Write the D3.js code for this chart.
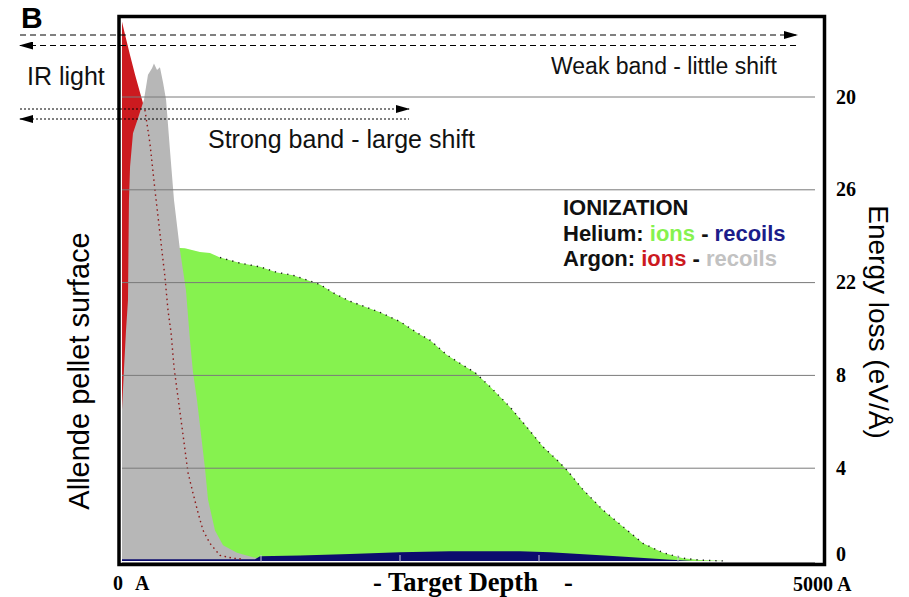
<!DOCTYPE html>
<html>
<head>
<meta charset="utf-8">
<script src="https://cdn.jsdelivr.net/npm/d3@7"></script>
<style>
  html, body { margin: 0; padding: 0; background: #fff; }
  svg { display: block; }
  .sans { font-family: "Liberation Sans", Arial, sans-serif; }
  .serif { font-family: "Liberation Serif", "Times New Roman", serif; font-weight: bold; }
</style>
</head>
<body>
<svg id="chart" width="909" height="597"></svg>
<script>
// Depth in Å, energy loss in axis-step units (one step per gridline)
const argonIonDepth = [0, 22, 58, 94, 129, 165, 201, 237, 273, 309, 331, 353, 374, 396, 432, 453, 475, 511, 547, 583, 633, 705, 799, 870];
const argonIons     = [5.81, 5.67, 5.45, 5.24, 5.05, 4.86, 4.50, 4.00, 3.53, 3.06, 2.70, 2.46, 2.09, 1.84, 1.44, 1.20, 0.95, 0.73, 0.52, 0.33, 0.19, 0.06, 0.03, 0.02];

const argonRecoilDepth = [0, 14, 29, 43, 50, 58, 79, 115, 158, 187, 216, 230, 252, 273, 295, 317, 345, 374, 417, 460, 489, 511, 540, 597, 619, 669, 727, 827, 942, 1065, 1209];
const argonRecoils     = [1.63, 2.06, 2.49, 2.81, 3.89, 4.25, 4.61, 4.77, 4.97, 5.24, 5.31, 5.36, 5.29, 5.32, 5.16, 4.97, 4.43, 3.89, 3.35, 2.92, 2.38, 2.03, 1.73, 1.00, 0.66, 0.33, 0.17, 0.09, 0.04, 0.01, 0];

const heliumIonDepth = [309, 453, 561, 633, 705, 849, 993, 1115, 1230, 1424, 1532, 1640, 1856, 2000, 2122, 2216, 2338, 2453, 2540, 2647, 2791, 2914, 3029, 3129, 3201, 3316, 3460, 3604, 3748, 3892, 4036, 4158, 4338];
const heliumIons     = [3.38, 3.37, 3.33, 3.32, 3.27, 3.21, 3.17, 3.11, 3.08, 2.98, 2.88, 2.80, 2.68, 2.58, 2.46, 2.38, 2.22, 2.11, 2.03, 1.88, 1.66, 1.44, 1.23, 1.09, 0.98, 0.77, 0.55, 0.37, 0.19, 0.09, 0.03, 0.01, 0];

const heliumRecoilDepth = [0, 957, 993, 1281, 1640, 2000, 2360, 2863, 3079, 3561, 3921, 4108];
const heliumRecoils     = [0.02, 0.02, 0.05, 0.06, 0.075, 0.095, 0.105, 0.105, 0.095, 0.05, 0.015, 0];

const yTickLevels = [0, 1, 2, 3, 4, 5];
const yTickLabels = ["0", "4", "8", "22", "26", "20"];
const xTickDepths = [1000, 2000, 3000, 4000];

const colors = {
  heIons: "#86f24f",
  heRecoils: "#0c0c6e",
  arIons: "#cc1a1f",
  arRecoils: "#b7b7b7"
};

const svg = d3.select("#chart");

const x = d3.scaleLinear().domain([0, 5000]).range([122, 817]);
const y = d3.scaleLinear().domain([0, 5]).range([561, 97]);

const pairs = (xs, ys) => xs.map((d, i) => [d, ys[i]]);
const area = d3.area().x(d => x(d[0])).y0(y(0)).y1(d => y(d[1])).curve(d3.curveLinear);
const line = d3.line().x(d => x(d[0])).y(d => y(d[1]));

svg.append("defs").html(`
  <marker id="head" viewBox="0 0 14 8" refX="13" refY="4" markerWidth="14" markerHeight="8" markerUnits="userSpaceOnUse" orient="auto-start-reverse">
    <path d="M0,0 L14,4 L0,8 Z" fill="#000"/>
  </marker>`);

// Filled profiles
svg.append("path").datum(pairs(argonIonDepth, argonIons)).attr("d", area).attr("fill", colors.arIons);
svg.append("path").datum(pairs(heliumIonDepth, heliumIons)).attr("d", area).attr("fill", colors.heIons);
svg.append("path").datum(pairs(argonRecoilDepth, argonRecoils)).attr("d", area).attr("fill", colors.arRecoils);
svg.append("path").datum(pairs(heliumRecoilDepth, heliumRecoils)).attr("d", area).attr("fill", colors.heRecoils);

// Dotted outlines of the ion profiles
svg.append("path")
  .datum(pairs(argonIonDepth, argonIons).filter(d => d[0] >= 165))
  .attr("d", line).attr("fill", "none")
  .attr("stroke", "#8e1818").attr("stroke-width", 1.4).attr("stroke-dasharray", "1.5,3.5");
svg.append("path")
  .datum(pairs(heliumIonDepth, heliumIons).filter(d => d[0] >= 650))
  .attr("d", line).attr("fill", "none")
  .attr("stroke", "#1a1a1a").attr("stroke-width", 1.4).attr("stroke-dasharray", "1.3,5");

// Gridlines on top of the fills
svg.append("g").selectAll("line")
  .data(yTickLevels.filter(d => d > 0))
  .join("line")
  .attr("x1", 122).attr("x2", 815)
  .attr("y1", d => y(d)).attr("y2", d => y(d))
  .attr("stroke", "#7a7a7a").attr("stroke-width", 1);

// Baseline and depth ticks
svg.append("line").attr("x1", 122).attr("x2", 815).attr("y1", y(0) + 1.5).attr("y2", y(0) + 1.5)
  .attr("stroke", "#9a9a9a").attr("stroke-width", 1);
svg.append("g").selectAll("line").data(xTickDepths).join("line")
  .attr("x1", d => x(d)).attr("x2", d => x(d))
  .attr("y1", y(0) - 6).attr("y2", y(0) + 1)
  .attr("stroke", "#c8c8d8").attr("stroke-width", 1);

// Frame
svg.append("rect").attr("x", 119).attr("y", 16.5).attr("width", 705.5).attr("height", 548)
  .attr("fill", "none").attr("stroke", "#000").attr("stroke-width", 3.5);

// Right axis labels
const yAxis = d3.axisRight(y).tickValues(yTickLevels).tickSize(0).tickPadding(0)
  .tickFormat((d, i) => yTickLabels[i]);
const gy = svg.append("g").attr("transform", "translate(836,0)").call(yAxis);
gy.select(".domain").remove();
gy.selectAll("text")
  .attr("class", "serif").attr("font-size", 20).attr("fill", "#000")
  .attr("dy", (d) => d === 0 ? "-0.05em" : "0.3em")
  .attr("x", 0).style("text-anchor", "start");

// Depth axis labels
const bottom = svg.append("g").attr("class", "serif").attr("fill", "#000");
bottom.append("text").attr("x", x(0) - 9).attr("y", 590).attr("font-size", 20).text("0");
bottom.append("text").attr("x", x(0) + 13).attr("y", 590).attr("font-size", 20).text("A");
bottom.append("text").attr("x", x(5000) - 24).attr("y", 591).attr("font-size", 20).text("5000 A");
bottom.append("text").attr("x", 373).attr("y", 591).attr("font-size", 26.5).text("- Target Depth");
bottom.append("text").attr("x", 564).attr("y", 591).attr("font-size", 26.5).text("-");

// Axis titles
svg.append("text").attr("class", "sans").attr("font-size", 28)
  .attr("transform", "translate(869,322) rotate(90)").attr("text-anchor", "middle")
  .text("Energy loss (eV/Å)");
svg.append("text").attr("class", "sans").attr("font-size", 29)
  .attr("transform", "translate(89,371) rotate(-90)").attr("text-anchor", "middle")
  .text("Allende pellet surface");

// Panel letter and light-path annotations
svg.append("text").attr("class", "sans").attr("font-size", 30).attr("font-weight", "bold")
  .attr("x", 21).attr("y", 28).text("B");

const arrows = svg.append("g").attr("stroke", "#000").attr("stroke-width", 1).attr("fill", "none");
arrows.append("line").attr("x1", 20).attr("x2", 797).attr("y1", 35).attr("y2", 35)
  .attr("stroke-dasharray", "6,4").attr("marker-end", "url(#head)");
arrows.append("line").attr("x1", 20).attr("x2", 797).attr("y1", 45.5).attr("y2", 45.5)
  .attr("stroke-dasharray", "6,4").attr("marker-start", "url(#head)");
arrows.append("line").attr("x1", 20).attr("x2", 409).attr("y1", 109).attr("y2", 109)
  .attr("stroke-dasharray", "2,2").attr("marker-end", "url(#head)");
arrows.append("line").attr("x1", 20).attr("x2", 409).attr("y1", 119).attr("y2", 119)
  .attr("stroke-dasharray", "2,2").attr("marker-start", "url(#head)");

const notes = svg.append("g").attr("class", "sans").attr("fill", "#111");
notes.append("text").attr("x", 27).attr("y", 85).attr("font-size", 25).text("IR light");
notes.append("text").attr("x", 551).attr("y", 74).attr("font-size", 23).text("Weak band - little shift");
notes.append("text").attr("x", 208).attr("y", 148).attr("font-size", 25).text("Strong band - large shift");

// Legend
const legend = svg.append("g").attr("class", "sans").attr("font-weight", "bold").attr("font-size", 22);
legend.append("text").attr("x", 563).attr("y", 215).attr("fill", "#111").text("IONIZATION");
const he = legend.append("text").attr("x", 563).attr("y", 241).attr("fill", "#111");
he.append("tspan").text("Helium: ");
he.append("tspan").attr("fill", colors.heIons).text("ions");
he.append("tspan").text(" - ");
he.append("tspan").attr("fill", "#1c1c8a").text("recoils");
const ar = legend.append("text").attr("x", 563).attr("y", 266).attr("fill", "#111");
ar.append("tspan").text("Argon: ");
ar.append("tspan").attr("fill", colors.arIons).text("ions");
ar.append("tspan").text(" - ");
ar.append("tspan").attr("fill", "#c2c2c2").text("recoils");
</script>
</body>
</html>
